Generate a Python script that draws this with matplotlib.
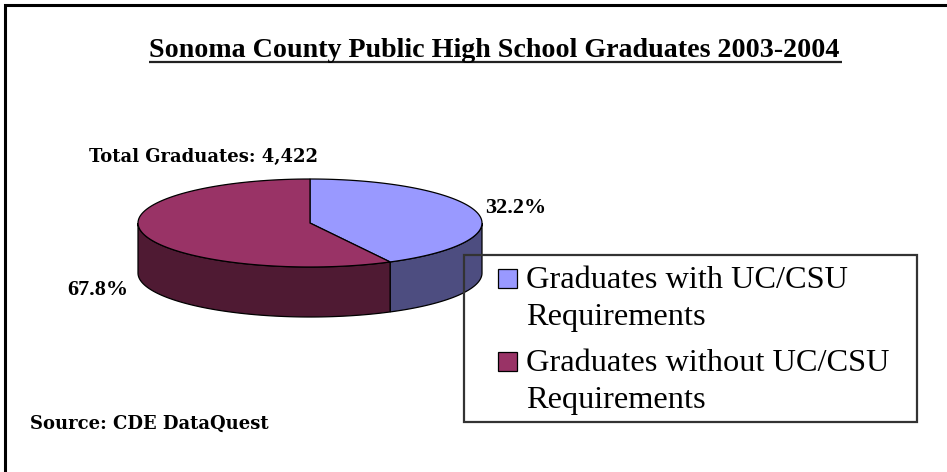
import numpy as np
import matplotlib.pyplot as plt
from matplotlib.patches import Polygon, Rectangle

# data
labels = [['Graduates with UC/CSU', 'Requirements'],
          ['Graduates without UC/CSU', 'Requirements']]
shares = [32.2, 67.8]
top_colors = ['#9999ff', '#993366']
side_colors = ['#4d4d80', '#4f1a33']
total_grads = 4422
title = 'Sonoma County Public High School Graduates 2003-2004'
source = 'Source: CDE DataQuest'

W, H = 947, 472
fig = plt.figure(figsize=(W / 100, H / 100), dpi=100)
ax = fig.add_axes([0, 0, 1, 1])
ax.set_xlim(0, W)
ax.set_ylim(H, 0)
ax.axis('off')

plt.rcParams['font.family'] = 'Liberation Serif'

# pie geometry (pixels)
cx, cy = 310, 223
rx, ry = 172, 44
depth = 50


def to_param(phi):
    # screen angle, degrees clockwise from 12 o'clock -> ellipse parameter
    p = np.radians(phi)
    t = np.arctan2(np.sin(p) / rx, np.cos(p) / ry)
    return t + 2 * np.pi * np.round((p - t) / (2 * np.pi))


def rim(t0, t1, dy=0, n=100):
    t = np.linspace(t0, t1, n)
    return np.column_stack([cx + rx * np.sin(t), cy - ry * np.cos(t) + dy])


bounds = np.concatenate([[0], np.cumsum(shares)]) / sum(shares) * 360
params = [to_param(b) for b in bounds]

# side walls, front half only
for i in range(len(shares)):
    a = max(params[i], np.pi / 2)
    b = min(params[i + 1], 3 * np.pi / 2)
    if b <= a:
        continue
    pts = np.vstack([rim(a, b), rim(b, a, dy=depth)])
    ax.add_patch(Polygon(pts, closed=True, fc=side_colors[i], ec='black', lw=0.9))

# top faces
for i in range(len(shares)):
    pts = np.vstack([[cx, cy], rim(params[i], params[i + 1])])
    ax.add_patch(Polygon(pts, closed=True, fc=top_colors[i], ec='black', lw=0.9))

# percentage labels
ax.text(485, 208, f'{shares[0]:.1f}%', fontsize=16, fontweight='bold', ha='left', va='center')
ax.text(128, 290, f'{shares[1]:.1f}%', fontsize=16, fontweight='bold', ha='right', va='center')
small = dict(family='DejaVu Serif', fontsize=13, fontweight='bold', ha='left', va='center')
ax.text(89, 157, f'Total Graduates: {total_grads:,}', **small)
ax.text(30, 424, source, **small)

# title with underline
t = ax.text(494, 57, title, fontsize=20.2, fontweight='bold', ha='center', va='baseline')
fig.canvas.draw()
bb = t.get_window_extent().transformed(ax.transData.inverted())
ax.plot([bb.x0, bb.x1 + 3], [62, 62], color='#222222', lw=1.6, solid_capstyle='butt')

# legend
ax.add_patch(Rectangle((464, 255), 453, 167, fill=False, ec='#333333', lw=1.6))
for i, lines in enumerate(labels):
    y0 = 269 + i * 83
    ax.add_patch(Rectangle((498, y0), 19, 19, fc=top_colors[i], ec='black', lw=0.9))
    for k, line in enumerate(lines):
        ax.text(526, y0 + 19 + k * 37, line, fontsize=23.3, ha='left', va='baseline')

# outer frame
ax.plot([5, 5, W], [H, 5, 5], color='black', lw=2.2, solid_joinstyle='miter')

fig.savefig('out.png', dpi=100)
